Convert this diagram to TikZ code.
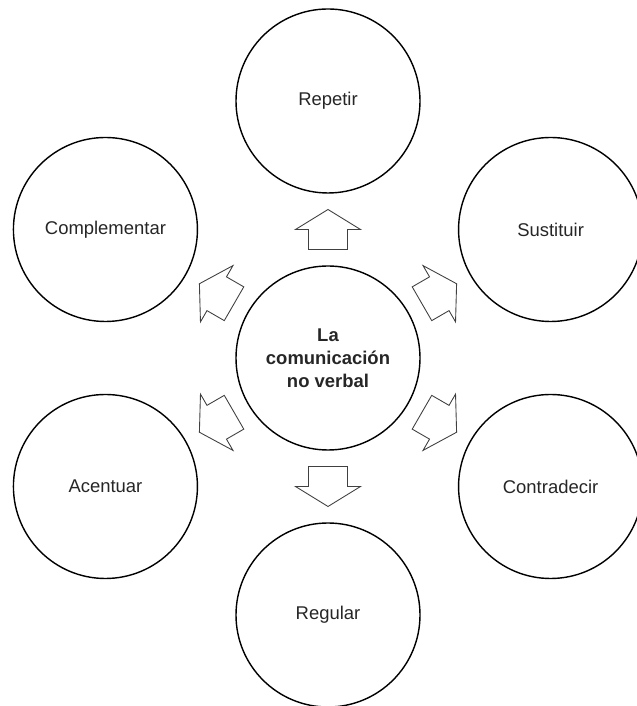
\documentclass[tikz,border=0pt]{standalone}
\usepackage{fontspec}
\setmainfont{Liberation Sans}
\usetikzlibrary{calc}
\tikzset{
  idea/.style={draw, circle, line width=0.8pt, minimum size=3.68cm, inner sep=0pt,
    font=\fontsize{10.5}{13}\selectfont, text=black!85},
  arrowline/.style={draw=black!75, line width=0.5pt, fill=white},
  blockarrow/.pic={
    \draw[arrowline] (-0.4,-0.39) -- (0,-0.39) -- (0,-0.65) -- (0.4,0)
      -- (0,0.65) -- (0,0.39) -- (-0.4,0.39) -- cycle;
  }
}
\begin{document}
\begin{tikzpicture}
  \useasboundingbox (0,0) rectangle (12.72,14.12);
  \node[idea, align=center, font=\bfseries\fontsize{10.5}{13}\selectfont] (c) at (6.56,6.96) {La\\comunicación\\no verbal};
  \node[idea] (rep) at ($(c)+(90:5.14)$) {Repetir};
  \node[idea] (sus) at ($(c)+(30:5.14)$) {Sustituir};
  \node[idea] (con) at ($(c)+(-30:5.14)$) {Contradecir};
  \node[idea] (reg) at ($(c)+(-90:5.14)$) {Regular};
  \node[idea] (ace) at ($(c)+(210:5.14)$) {Acentuar};
  \node[idea] (com) at ($(c)+(150:5.14)$) {Complementar};
  % arrows between the center and each circle
  \foreach \n/\a in {rep/90, sus/30, con/-30, reg/-90, ace/210, com/150}
    \path ($(c)!0.5!(\n)$) pic[rotate=\a] {blockarrow};
\end{tikzpicture}
\end{document}
